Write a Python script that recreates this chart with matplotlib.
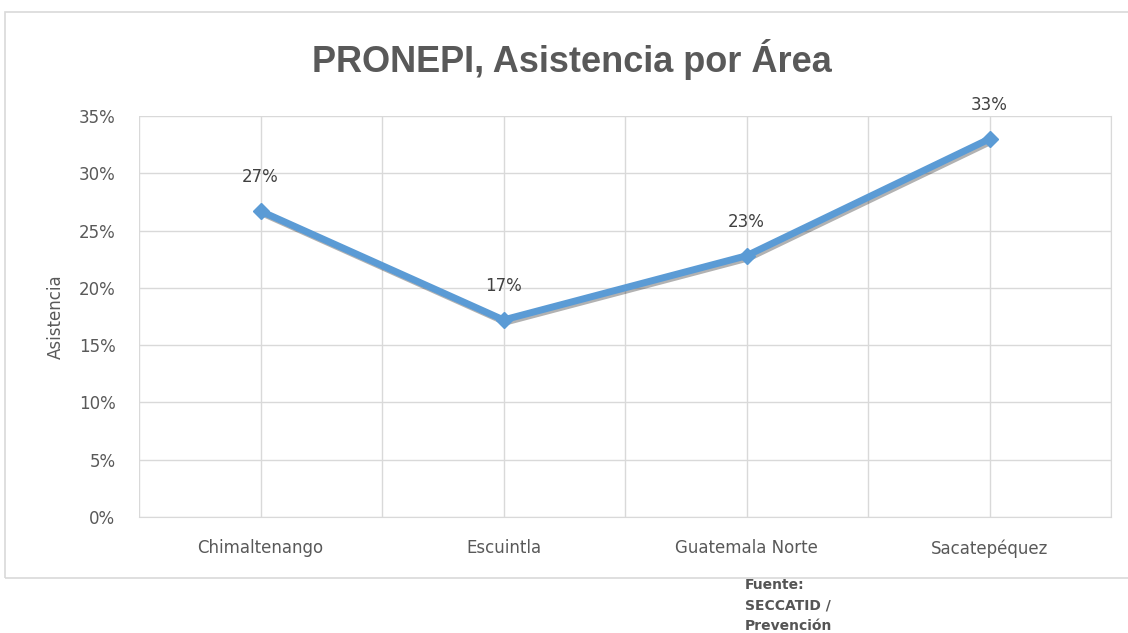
import numpy as np
import matplotlib.pyplot as plt
import matplotlib.patheffects as pe
from matplotlib.patches import Rectangle
from matplotlib.ticker import PercentFormatter

areas = ['Chimaltenango', 'Escuintla', 'Guatemala Norte', 'Sacatepéquez']
asistencia = [0.267, 0.172, 0.228, 0.330]
labels = ['27%', '17%', '23%', '33%']

grey = '#595959'
blue = '#5B9BD5'


def plot_chart():
    fig = plt.figure(figsize=(11.28, 6.33), dpi=100)
    ax = fig.add_axes([139 / 1128, 1 - 517 / 633, 972 / 1128, 401 / 633])

    # chart area frame
    fig.patches.append(Rectangle((5 / 1128, 1 - 578 / 633), 1.2, 566 / 633,
                                 transform=fig.transFigure, fill=False,
                                 edgecolor='#D9D9D9', linewidth=1.2))

    x = np.arange(len(areas))
    ax.plot(x, asistencia, '-', color=blue, lw=5, solid_joinstyle='miter',
            zorder=3,
            path_effects=[pe.SimpleLineShadow(offset=(1.5, -1.5), alpha=0.3),
                          pe.Normal()])
    ax.plot(x, asistencia, 'D', color=blue, ms=8, zorder=4)
    for xi, v, s in zip(x, asistencia, labels):
        ax.annotate(s, (xi, v), xytext=(0, 18), textcoords='offset points',
                    ha='center', va='bottom', fontsize=12, color='#404040')

    ax.set_xlim(-0.5, 3.5)
    ax.set_ylim(0, 0.35)
    ax.set_yticks(np.arange(0, 0.351, 0.05))
    ax.yaxis.set_major_formatter(PercentFormatter(1.0, decimals=0))
    ax.set_xticks(x)
    ax.set_xticklabels(areas)
    ax.set_xticks(np.arange(-0.5, 3.6, 1.0), minor=True)
    ax.grid(True, which='both', color='#D9D9D9', lw=1)
    ax.set_axisbelow(True)
    for sp in ax.spines.values():
        sp.set_visible(False)
    for side in ['right', 'bottom']:
        ax.spines[side].set_visible(True)
        ax.spines[side].set_color('#D9D9D9')
    ax.tick_params(which='both', length=0, labelsize=12, labelcolor=grey)
    ax.tick_params(axis='y', pad=17)
    ax.tick_params(axis='x', pad=16)

    ax.set_ylabel('Asistencia', fontsize=12, color=grey, labelpad=10)
    fig.text(572 / 1128, 1 - 60 / 633, 'PRONEPI, Asistencia por Área',
             ha='center', va='center', fontsize=26, fontweight='bold',
             color=grey, family='Liberation Sans')
    fig.text(745 / 1128, 1 - 578 / 633, 'Fuente:\nSECCATID /\nPrevención',
             ha='left', va='top', fontsize=10, fontweight='bold',
             color='#555555', linespacing=1.6)

    fig.savefig('out.png', dpi=100)


def main():
    plot_chart()


if __name__ == "__main__":
    main()
